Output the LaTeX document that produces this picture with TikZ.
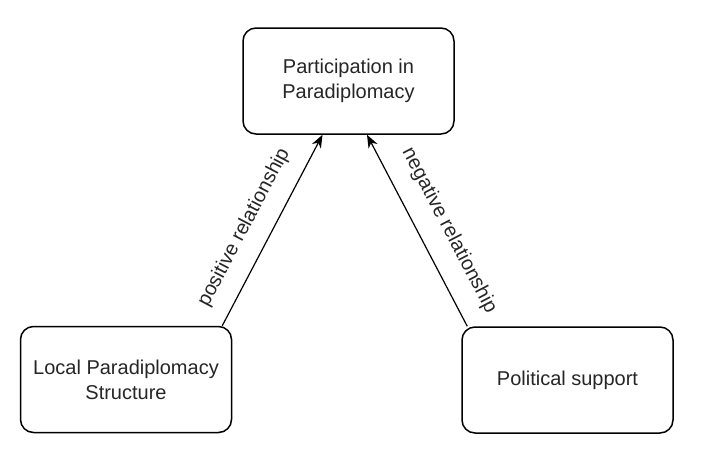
\documentclass[tikz,border=0pt]{standalone}
\usepackage{fontspec}
\setmainfont{Liberation Sans}
\usetikzlibrary{arrows.meta}
\tikzset{
  box/.style={draw, line width=1.5pt, rounded corners=13pt, minimum width=211pt,
    minimum height=106pt, align=center, font=\fontsize{20}{25}\selectfont, text=black!85},
  rel/.style={line width=1.2pt, -{Stealth[length=13pt,width=10pt,inset=4pt]}},
  rellabel/.style={sloped, font=\fontsize{20}{23}\selectfont, text=black!85}
}
\begin{document}
\begin{tikzpicture}[x=1pt,y=-1pt]
\useasboundingbox (0,0) rectangle (702,451);
\node[box] (part) at (348.5,81) {Participation in\\Paradiplomacy};
\node[box] (local) at (126,379.5) {Local Paradiplomacy\\Structure};
\node[box] (polit) at (567.5,380) {Political support};
\draw[rel] ([xshift=-10pt]local.north east) -- node[rellabel, pos=0.45, above=13pt] {positive relationship} ([xshift=-26pt]part.south);
\draw[rel] ([xshift=6pt]polit.north west) -- node[rellabel, pos=0.43, above=15pt] {negative relationship} ([xshift=18.5pt]part.south);
\end{tikzpicture}
\end{document}
